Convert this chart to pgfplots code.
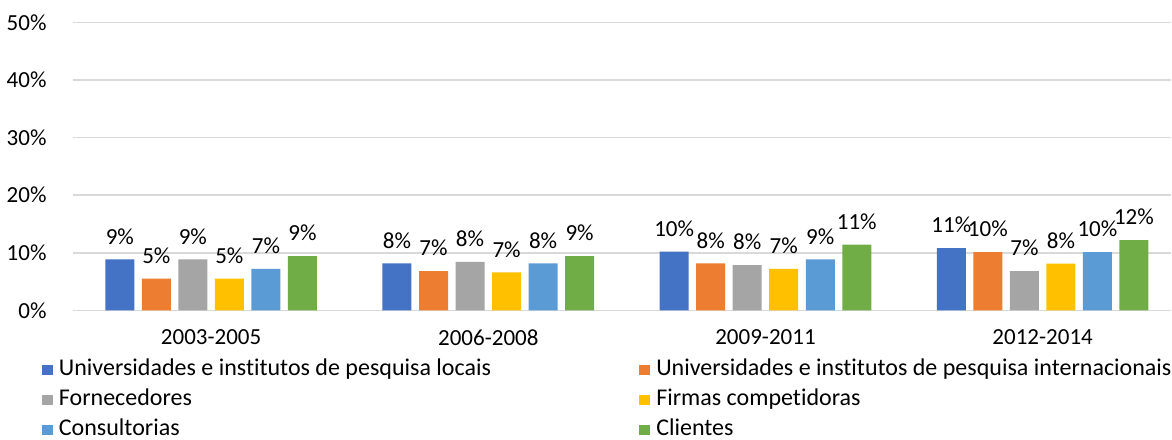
\documentclass[border=0pt]{standalone}
\usepackage{fontspec}
\setmainfont{Carlito}[Ligatures=NoCommon]
\usepackage{pgfplots}
\pgfplotsset{compat=1.18}
\definecolor{c1}{HTML}{4472C4}
\definecolor{c2}{HTML}{ED7D31}
\definecolor{c3}{HTML}{A5A5A5}
\definecolor{c4}{HTML}{FFC000}
\definecolor{c5}{HTML}{5B9BD5}
\definecolor{c6}{HTML}{70AD47}
\definecolor{gridc}{HTML}{D9D9D9}
\newcommand{\lc}[1]{\makebox[287pt][l]{#1}}
\begin{document}
\begin{tikzpicture}[font=\fontsize{11.5pt}{13.8pt}\selectfont]
\begin{axis}[
  scale only axis,
  width=549pt, height=143.75pt,
  ybar=3.75pt, bar width=14.5pt,
  xmin=-0.5, xmax=3.464,
  ymin=0, ymax=50,
  xtick={0,1,2,3},
  xticklabels={2003-2005,2006-2008,2009-2011,2012-2014},
  ytick={0,10,20,30,40,50},
  yticklabel={\pgfmathprintnumber{\tick}\%},
  /pgf/number format/assume math mode=true,
  ymajorgrids,
  major grid style={draw=gridc, line width=0.75pt},
  axis line style={draw=none},
  major tick length=0pt,
  xticklabel style={yshift=-6pt},
  yticklabel style={xshift=-9.5pt},
  clip=false,
  point meta=explicit symbolic,
  nodes near coords,
  nodes near coords style={yshift=4pt, text=black},
  every axis plot post/.append style={draw=none,
    legend image code/.code={\fill[##1] (0pt,-2.6pt) rectangle (5.5pt,2.6pt);}},
  legend columns=2,
  legend cell align=left,
  legend style={at={(rel axis cs:0,0)}, anchor=north west,
    xshift=-15.5pt, yshift=-24.5pt, draw=none, inner sep=0pt,
    column sep=3pt, row sep=5pt,
    font=\fontsize{12pt}{14pt}\selectfont,
    nodes={inner sep=0pt, text height=8pt, text depth=2pt}},
]
\addplot[fill=c1] coordinates {(0,8.84) [9\%] (1,8.15) [8\%] (2,10.2) [10\%] (3,10.8) [11\%]};
\addplot[fill=c2] coordinates {(0,5.5) [5\%] (1,6.8) [7\%] (2,8.15) [8\%] (3,10.1) [10\%]};
\addplot[fill=c3] coordinates {(0,8.84) [9\%] (1,8.4) [8\%] (2,7.87) [8\%] (3,6.8) [7\%]};
\addplot[fill=c4] coordinates {(0,5.5) [5\%] (1,6.6) [7\%] (2,7.2) [7\%] (3,8.1) [8\%]};
\addplot[fill=c5] coordinates {(0,7.2) [7\%] (1,8.15) [8\%] (2,8.84) [9\%] (3,10.1) [10\%]};
\addplot[fill=c6] coordinates {(0,9.4) [9\%] (1,9.4) [9\%] (2,11.4) [11\%] (3,12.2) [12\%]};
\legend{\lc{Universidades e institutos de pesquisa locais},Universidades e institutos de pesquisa internacionais,\lc{Fornecedores},Firmas competidoras,\lc{Consultorias},Clientes}
\end{axis}
\path ([yshift=4pt]current bounding box.north);
\end{tikzpicture}
\end{document}
